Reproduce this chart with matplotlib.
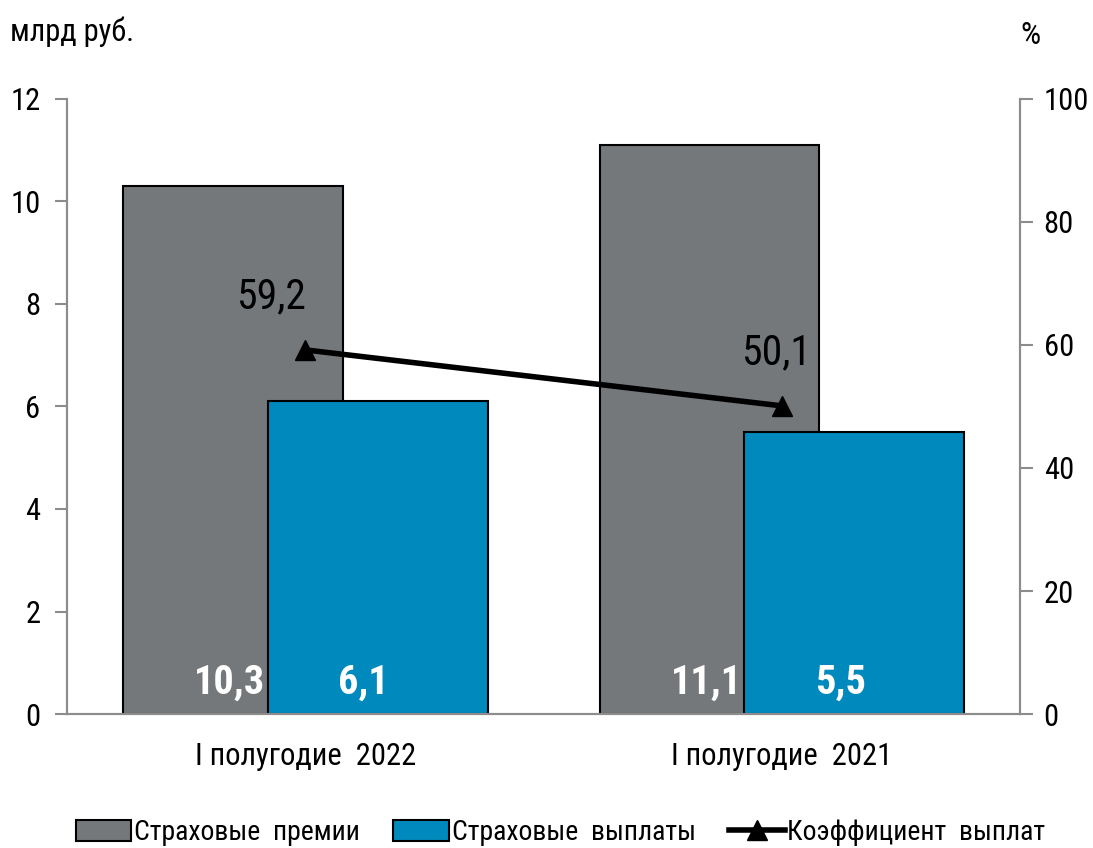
import matplotlib.pyplot as plt
import numpy as np
from matplotlib import font_manager

periods = ["I полугодие  2022", "I полугодие  2021"]
premiums = [10.3, 11.1]
payouts = [6.1, 5.5]
ratio = [59.2, 50.1]
premium_labels = ["10,3", "11,1"]
payout_labels = ["6,1", "5,5"]
ratio_labels = ["59,2", "50,1"]

# narrow font like Arial Narrow, if one is around
fonts = font_manager.fontManager.ttflist
names = {f.name for f in fonts}
stretch = "normal"
if "Liberation Sans Narrow" in names:
    fam = "Liberation Sans Narrow"
elif "Roboto Condensed" in names:
    fam = "Roboto Condensed"
elif any(f.name == "DejaVu Sans" and f.stretch == "condensed" for f in fonts):
    fam = "DejaVu Sans"
    stretch = "condensed"
else:
    fam = "Liberation Sans"
plt.rcParams['font.family'] = [fam, 'DejaVu Sans']
plt.rcParams['font.stretch'] = stretch

grey = "#75787b"
blue = "#0089bc"
axcol = "#8c8c8c"

fig = plt.figure(figsize=(10.93, 8.48), dpi=100)
ax = fig.add_axes([0.0613, 0.158, 0.872, 0.7253])
ax2 = ax.twinx()

x = np.arange(len(periods))
w = 0.461
off = 0.152

ax.bar(x - off, premiums, w, color=grey, edgecolor="black", linewidth=1.5, zorder=2,
       label="Страховые  премии")
ax.bar(x + off, payouts, w, color=blue, edgecolor="black", linewidth=1.5, zorder=3,
       label="Страховые  выплаты")

for i in range(len(x)):
    ax.annotate(premium_labels[i], (x[i] - off, 0.62), xytext=(-2, 0), textcoords="offset points",
                ha="center", va="center", color="white", fontsize=29, fontweight="bold", zorder=5)
    ax.annotate(payout_labels[i], (x[i] + off, 0.62), xytext=(-10, 0), textcoords="offset points",
                ha="center", va="center", color="white", fontsize=29, fontweight="bold", zorder=5)

ax2.plot(x, ratio, color="black", lw=4, marker="^", markersize=14, zorder=6,
         label="Коэффициент  выплат")
for i in range(len(x)):
    ax2.annotate(ratio_labels[i], (x[i], ratio[i]), xytext=(-25 if i == 0 else -4, 38),
                 textcoords="offset points", ha="center", va="center", fontsize=30)

ax.set_xlim(-0.5, 1.5)
ax.set_ylim(0, 12)
ax.set_yticks(range(0, 13, 2))
ax2.set_ylim(0, 100)
ax2.set_yticks(range(0, 101, 20))
ax.set_xticks(x)
ax.set_xticklabels(periods, fontsize=22)

for a in (ax, ax2):
    for s in a.spines.values():
        s.set_color(axcol)
        s.set_linewidth(1.5)
    a.spines["top"].set_visible(False)
    a.tick_params(axis="y", colors=axcol, labelcolor="black", labelsize=22, length=9, width=1.5, pad=10)
ax2.tick_params(axis="y", pad=8)
ax.tick_params(axis="x", length=0, pad=20)
ax2.patch.set_visible(False)

fig.text(0.009, 0.963, "млрд руб.", fontsize=22, ha="left", va="center")
fig.text(0.934, 0.958, "%", fontsize=23, ha="left", va="center")

h1, l1 = ax.get_legend_handles_labels()
h2, l2 = ax2.get_legend_handles_labels()
fig.legend(h1 + h2, l1 + l2, loc="center", bbox_to_anchor=(0.513, 0.018), ncol=3, frameon=False,
           fontsize=20, handlelength=2.0, handleheight=0.8, handletextpad=0.1, columnspacing=1.2)

fig.savefig("out.png", dpi=100)
